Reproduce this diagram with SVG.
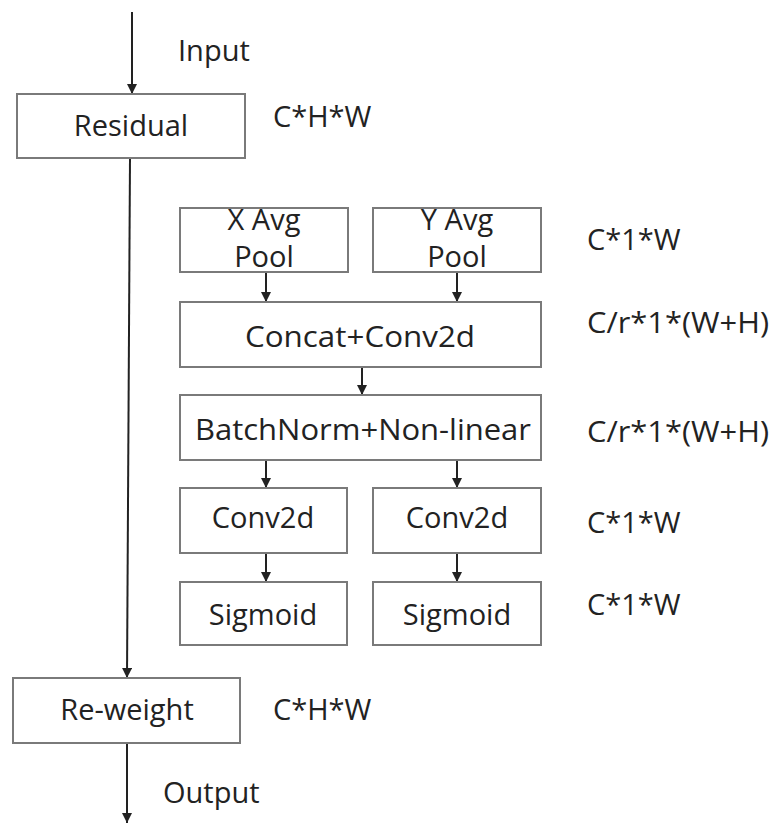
<svg xmlns="http://www.w3.org/2000/svg" width="774" height="823" viewBox="0 0 774 823">
<style>
.box{fill:#fff;stroke:#7a7a7a;stroke-width:2}
.t{font-family:"Open Sans","Noto Sans",sans-serif;font-size:29px;fill:#222;text-anchor:middle}
.l{font-family:"Open Sans","Noto Sans",sans-serif;font-size:29px;fill:#222}
.c{stroke:#222;stroke-width:2;fill:none}
</style>
<defs>
<marker id="a" viewBox="0 0 10 10" refX="10" refY="5" markerWidth="10" markerHeight="10" markerUnits="userSpaceOnUse" orient="auto">
<path d="M0,0 L10,5 L0,10 z" fill="#222"/>
</marker>
</defs>
<rect width="774" height="823" fill="#fff"/>
<g id="connectors">
<line class="c" x1="132" y1="12" x2="132" y2="94" marker-end="url(#a)"/>
<line class="c" x1="130" y1="158" x2="127" y2="678" marker-end="url(#a)"/>
<line class="c" x1="127" y1="743" x2="127" y2="823" marker-end="url(#a)"/>
<line class="c" x1="266" y1="272" x2="266" y2="302" marker-end="url(#a)"/>
<line class="c" x1="457" y1="272" x2="457" y2="302" marker-end="url(#a)"/>
<line class="c" x1="362" y1="367" x2="362" y2="395" marker-end="url(#a)"/>
<line class="c" x1="266" y1="460" x2="266" y2="488" marker-end="url(#a)"/>
<line class="c" x1="457" y1="460" x2="457" y2="488" marker-end="url(#a)"/>
<line class="c" x1="266" y1="553" x2="266" y2="582" marker-end="url(#a)"/>
<line class="c" x1="457" y1="553" x2="457" y2="582" marker-end="url(#a)"/>
</g>
<g id="labels">
<text class="l" x="178" y="61">Input</text>
<text class="l" x="273" y="127">C*H*W</text>
<text class="l" x="587" y="250">C*1*W</text>
<text class="l" x="587" y="333" textLength="182" lengthAdjust="spacingAndGlyphs">C/r*1*(W+H)</text>
<text class="l" x="587" y="442" textLength="182" lengthAdjust="spacingAndGlyphs">C/r*1*(W+H)</text>
<text class="l" x="587" y="533">C*1*W</text>
<text class="l" x="587" y="615">C*1*W</text>
<text class="l" x="273" y="720">C*H*W</text>
<text class="l" x="163" y="803">Output</text>
</g>
<g id="residual"><rect class="box" x="17" y="94" width="228" height="64"/><text class="t" x="131" y="136">Residual</text></g>
<g id="xpool"><rect class="box" x="180" y="208" width="168" height="64"/><text class="t" x="264" y="230">X Avg</text><text class="t" x="264" y="267">Pool</text></g>
<g id="ypool"><rect class="box" x="373" y="208" width="168" height="64"/><text class="t" x="457" y="230">Y Avg</text><text class="t" x="457" y="267">Pool</text></g>
<g id="concat"><rect class="box" x="180" y="302" width="361" height="65"/><text class="t" x="360" y="347" textLength="230" lengthAdjust="spacingAndGlyphs">Concat+Conv2d</text></g>
<g id="bn"><rect class="box" x="180" y="395" width="361" height="65"/><text class="t" x="363" y="440" textLength="336" lengthAdjust="spacingAndGlyphs">BatchNorm+Non-linear</text></g>
<g id="conv1"><rect class="box" x="180" y="488" width="167" height="65"/><text class="t" x="263" y="528">Conv2d</text></g>
<g id="conv2"><rect class="box" x="373" y="488" width="168" height="65"/><text class="t" x="457" y="528">Conv2d</text></g>
<g id="sig1"><rect class="box" x="180" y="582" width="167" height="63"/><text class="t" x="263" y="625">Sigmoid</text></g>
<g id="sig2"><rect class="box" x="373" y="582" width="168" height="63"/><text class="t" x="457" y="625">Sigmoid</text></g>
<g id="reweight"><rect class="box" x="13" y="678" width="227" height="65"/><text class="t" x="127" y="720">Re-weight</text></g>
</svg>
